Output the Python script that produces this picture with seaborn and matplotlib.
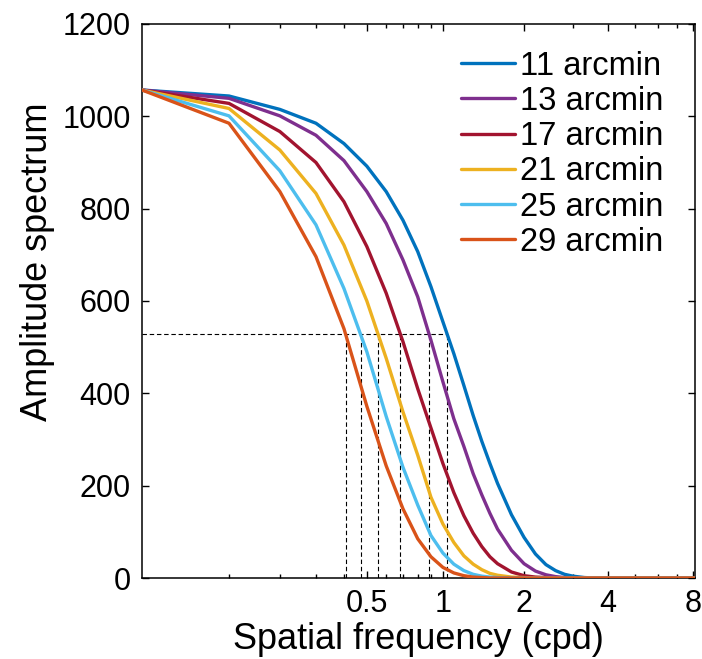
import numpy as np
import pandas as pd
import matplotlib
matplotlib.use("Agg")
import matplotlib.pyplot as plt
import seaborn as sns

# spatial frequency samples (cpd)
freq = [0, 0.1, 0.2, 0.3, 0.4, 0.5, 0.6, 0.7, 0.8, 0.9, 1.0, 1.1, 1.2, 1.3, 1.4,
        1.5, 1.6, 1.8, 2.0, 2.2, 2.4, 2.6, 2.8, 3.0, 3.3, 3.6, 4.0, 5.0, 6.0, 8.1]

sizes = ["11 arcmin", "13 arcmin", "17 arcmin", "21 arcmin", "25 arcmin", "29 arcmin"]

amp_11 = [1057, 1044, 1015, 985, 941, 892, 837, 775, 707, 631, 555, 486, 417, 352, 296,
          248, 205, 137, 88, 52, 29, 16, 8, 4, 1, 0, 0, 0, 0, 0]
amp_13 = [1057, 1039, 1001, 959, 904, 837, 768, 689, 609, 515, 425, 345, 285, 226, 180,
          140, 106, 60, 31, 15, 7, 3, 1, 0, 0, 0, 0, 0, 0, 0]
amp_17 = [1057, 1028, 967, 900, 815, 718, 617, 512, 410, 325, 248, 185, 135, 97, 68,
          46, 31, 13, 5, 2, 1, 0, 0, 0, 0, 0, 0, 0, 0, 0]
amp_21 = [1057, 1017, 927, 833, 721, 600, 476, 360, 266, 175, 117, 77, 48, 30, 18,
          10, 6, 2, 1, 0, 0, 0, 0, 0, 0, 0, 0, 0, 0, 0]
amp_25 = [1057, 1001, 882, 765, 627, 490, 350, 240, 158, 92, 54, 30, 16, 8, 4,
          2, 1, 0, 0, 0, 0, 0, 0, 0, 0, 0, 0, 0, 0, 0]
amp_29 = [1057, 985, 837, 696, 540, 372, 243, 150, 85, 46, 23, 11, 5, 2, 1,
          0, 0, 0, 0, 0, 0, 0, 0, 0, 0, 0, 0, 0, 0, 0]

colors = ["#0072BD", "#7E2F8E", "#A2142F", "#EDB120", "#4DBEEE", "#D95319"]

x_major = [0.5, 1, 2, 4, 8]
x_minor = [0.1, 0.2, 0.3, 0.4, 0.6, 0.7, 0.8, 0.9, 3, 5, 6, 7]
y_ticks = [0, 200, 400, 600, 800, 1000, 1200]

all_amps = [amp_11, amp_13, amp_17, amp_21, amp_25, amp_29]
df = pd.concat([pd.DataFrame({"f": freq, "amp": a, "size": s})
                for s, a in zip(sizes, all_amps)], ignore_index=True)

sns.set_style("ticks")
plt.rcParams["font.family"] = ["Liberation Sans", "DejaVu Sans"]
plt.rcParams["text.color"] = "black"
plt.rcParams["axes.labelcolor"] = "black"
plt.rcParams["xtick.color"] = "black"
plt.rcParams["ytick.color"] = "black"

fig = plt.figure(figsize=(7.02, 6.59), dpi=100)
ax = fig.add_axes([0.2023, 0.1229, 0.7877, 0.8407])


def fwd(x):
    return np.log10(np.clip(x, -0.099, None) + 0.1)


def inv(y):
    return 10 ** y - 0.1


ax.set_xscale("function", functions=(fwd, inv))

sns.lineplot(data=df, x="f", y="amp", hue="size", palette=colors, linewidth=2.4,
             ax=ax, zorder=3, legend=False)

# half amplitude markers
half = amp_11[0] / 2
cross = []
for a in all_amps:
    a = np.array(a, dtype=float)
    f = np.array(freq)
    m = a > 0
    cross.append(np.interp(half, a[m][::-1], f[m][::-1]))
dash = (0, (4, 2.5))
ax.hlines(half, 0, max(cross), colors="black", linestyles=dash, linewidth=0.8, zorder=1)
ax.vlines(cross, 0, half, colors="black", linestyles=dash, linewidth=0.8, zorder=1)

ax.set_xlim(0, 8.1)
ax.set_ylim(0, 1200)
ax.set_xticks(x_major)
ax.set_xticklabels(["0.5", "1", "2", "4", "8"])
ax.set_xticks(x_minor, minor=True)
ax.set_yticks(y_ticks)
ax.tick_params(which="both", direction="in", top=True, right=True, labelsize=22,
               width=1, color="black")
ax.tick_params(which="major", length=5, pad=8)
ax.tick_params(which="minor", length=3)
for sp in ax.spines.values():
    sp.set_linewidth(1.1)
    sp.set_color("black")

ax.set_xlabel("Spatial frequency (cpd)", fontsize=26, labelpad=2)
ax.set_ylabel("Amplitude spectrum", fontsize=26)
ax.yaxis.set_label_coords(-0.158, 0.57)

handles = [plt.Line2D([], [], color=c, linewidth=2.4) for c in colors]
ax.legend(handles, sizes, loc="upper right", bbox_to_anchor=(0.942, 0.952),
          frameon=False, fontsize=23.5, handlelength=1.63, handletextpad=0.15,
          labelspacing=0.13, borderaxespad=0, borderpad=0)

fig.savefig("out.png", dpi=100)
